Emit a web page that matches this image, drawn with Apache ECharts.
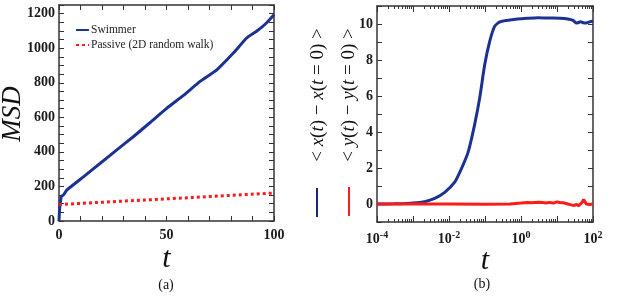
<!DOCTYPE html>
<html><head><meta charset="utf-8">
<script src="https://cdn.jsdelivr.net/npm/echarts@6/dist/echarts.min.js"></script>
<style>html,body{margin:0;padding:0;background:#fff}#c{width:623px;height:296px}</style>
</head><body><div id="c"></div>
<script>
// ---- Panel (a): MSD vs t ----
const tSwim   = [0, 0.15, 0.35, 0.6, 1.07, 2.1, 3.7, 11.5, 19.2, 26.9, 34.7, 42.4, 50.2, 57.9, 65.6, 73.4, 81.1, 87.3, 91.9, 96, 100];
const msdSwim = [0, 40, 80, 104, 141, 151, 180, 257, 334, 412, 489, 570, 653, 727, 808, 875, 972, 1059, 1098, 1140, 1194];
const tPass   = [0, 25, 50, 75, 100];
const msdPass = [95, 112, 128, 145, 162];

// ---- Panel (b): displacement vs t (log t) ----
const tX = [1e-4, 3e-4, 6e-4, 1e-3, 0.0021, 0.004, 0.0076, 0.0144, 0.022, 0.034, 0.051, 0.071, 0.098, 0.135, 0.185, 0.26, 0.4, 0.8, 1.5, 3, 6, 12, 20, 28, 35, 45, 60, 80, 100];
const dX = [0, 0.01, 0.03, 0.05, 0.13, 0.31, 0.65, 1.21, 1.95, 2.88, 4.37, 5.87, 7.73, 9.03, 9.87, 10.12, 10.2, 10.28, 10.32, 10.35, 10.33, 10.32, 10.28, 10.2, 10.05, 10.12, 10.05, 10.12, 10.15];
const tY = [1e-4, 1e-3, 1e-2, 0.1, 0.5, 1, 1.5, 2, 3, 4, 5, 6, 8, 10, 12, 15, 20, 25, 30, 35, 40, 50, 55, 60, 65, 70, 80, 100];
const dY = [0, 0, 0, -0.02, 0.0, 0.05, 0.08, 0.07, 0.1, 0.08, 0.06, 0.09, 0.05, 0.12, 0.08, 0.07, 0.0, -0.05, -0.08, -0.02, -0.1, 0.1, 0.25, 0.15, 0.0, 0.05, -0.03, 0.0];

// minor log tick positions, as exponents (log10 of 2..9 x 10^e)
const logMinorExp = [];
for (let e = -4; e < 2; e++) for (let m = 2; m <= 9; m++) logMinorExp.push(e + Math.log10(m));

const BLUE = '#1c3293', RED = '#ff1a1a', FRAME = '#333';
const SERIF = 'Liberation Serif';
const zip = (a, b) => a.map((v, i) => [v, b[i]]);
const lbl = { fontFamily: SERIF, fontWeight: 'bold', fontSize: 14, color: '#1a1a1a' };
const line = { show: true, onZero: false, lineStyle: { color: FRAME, width: 1.5 } };
const ghostLine = { show: true, onZero: false, lineStyle: { color: FRAME, width: 0, opacity: 0 } };
const tick = (len) => ({ show: true, inside: true, length: len, lineStyle: { color: FRAME, width: 1 } });
const nameStyle = (s) => ({ fontFamily: SERIF, fontStyle: 'italic', fontSize: s, color: '#111' });
const minorAxis = (pos) => ({ gridIndex: 1, type: 'value', min: -4, max: 2, position: pos,
  axisLine: ghostLine, axisTick: Object.assign(tick(3), { customValues: logMinorExp }),
  splitLine: { show: false }, axisLabel: { show: false } });

const chart = echarts.init(document.getElementById('c'));
chart.setOption({
  animation: false,
  grid: [
    { left: 59, top: 5, width: 215, height: 216, outerBoundsMode: 'none', containLabel: false },
    { left: 377, top: 6, width: 216, height: 216, outerBoundsMode: 'none', containLabel: false }
  ],
  legend: {
    data: ['Swimmer', 'Passive (2D random walk)'],
    orient: 'vertical', left: 75, top: 24, padding: 0, itemWidth: 13, itemHeight: 10, itemGap: 3,
    itemStyle: { opacity: 0 },
    textStyle: { fontFamily: SERIF, fontSize: 11.5, color: '#222', padding: [0, 0, 0, -3] }
  },
  xAxis: [
    { gridIndex: 0, type: 'value', min: 0, max: 100, interval: 10, position: 'bottom',
      axisLine: line, axisTick: tick(5), splitLine: { show: false },
      axisLabel: Object.assign({ margin: 7, formatter: v => (v % 50 === 0 ? String(v) : '') }, lbl),
      name: 't', nameLocation: 'middle', nameGap: 23, nameMoveOverlap: false, nameTextStyle: nameStyle(30) },
    { gridIndex: 0, type: 'value', min: 0, max: 100, interval: 10, position: 'top',
      axisLine: line, axisTick: tick(5), splitLine: { show: false }, axisLabel: { show: false } },
    { gridIndex: 1, type: 'log', logBase: 10, min: 1e-4, max: 100, position: 'bottom',
      axisLine: line, axisTick: tick(6), splitLine: { show: false }, minorTick: { show: false },
      axisLabel: Object.assign({ margin: 8,
        formatter: v => { const e = Math.round(Math.log10(v)); return e % 2 === 0 ? '10{s|' + (e < 0 ? '-' : '') + Math.abs(e) + '}' : ''; },
        rich: { s: { fontFamily: SERIF, fontWeight: 'bold', fontSize: 10, verticalAlign: 'top', padding: [0, 0, 9, 0] } } }, lbl),
      name: 't', nameLocation: 'middle', nameGap: 24, nameMoveOverlap: false, nameTextStyle: nameStyle(30) },
    minorAxis('bottom'),
    { gridIndex: 1, type: 'log', logBase: 10, min: 1e-4, max: 100, position: 'top',
      axisLine: line, axisTick: tick(6), splitLine: { show: false }, axisLabel: { show: false } },
    minorAxis('top')
  ],
  yAxis: [
    { gridIndex: 0, type: 'value', min: 0, max: 1250, interval: 50, position: 'left',
      axisLine: line, axisTick: tick(5), splitLine: { show: false },
      axisLabel: Object.assign({ margin: 4, formatter: v => (v % 200 === 0 ? String(v) : '') }, lbl) },
    { gridIndex: 0, type: 'value', min: 0, max: 1250, interval: 50, position: 'right',
      axisLine: line, axisTick: tick(5), splitLine: { show: false }, axisLabel: { show: false } },
    { gridIndex: 1, type: 'value', min: -1, max: 11, interval: 1, position: 'left',
      axisLine: line, axisTick: tick(5), splitLine: { show: false },
      axisLabel: Object.assign({ margin: 4, formatter: v => (v % 2 === 0 ? String(v) : '') }, lbl) },
    { gridIndex: 1, type: 'value', min: -1, max: 11, interval: 1, position: 'right',
      axisLine: line, axisTick: tick(5), splitLine: { show: false }, axisLabel: { show: false } }
  ],
  series: [
    { name: 'Swimmer', type: 'line', xAxisIndex: 0, yAxisIndex: 0, data: zip(tSwim, msdSwim), smooth: 0.15,
      showSymbol: false, symbol: 'none', lineStyle: { color: BLUE, width: 3 }, itemStyle: { color: BLUE } },
    { name: 'Passive (2D random walk)', type: 'line', xAxisIndex: 0, yAxisIndex: 0, data: zip(tPass, msdPass),
      showSymbol: false, symbol: 'none', lineStyle: { color: RED, width: 3, type: [3, 3] }, itemStyle: { color: RED } },
    { name: 'x', type: 'line', xAxisIndex: 2, yAxisIndex: 2, data: zip(tX, dX), smooth: 0.2,
      showSymbol: false, symbol: 'none', lineStyle: { color: BLUE, width: 3 } },
    { name: 'y', type: 'line', xAxisIndex: 2, yAxisIndex: 2, data: zip(tY, dY),
      showSymbol: false, symbol: 'none', lineStyle: { color: RED, width: 3 } }
  ],
  graphic: [
    { type: 'text', x: 13, y: 114, rotation: Math.PI / 2,
      style: { text: 'MSD', fontFamily: SERIF, fontStyle: 'italic', fontSize: 27, fill: '#111',
        align: 'center', verticalAlign: 'middle' } },
    { type: 'text', x: 318, y: 95, rotation: Math.PI / 2,
      style: { text: '< {i|x}({i|t}) − {i|x}({i|t} = 0) >', fontFamily: SERIF, fontSize: 19, fill: '#111',
        align: 'center', verticalAlign: 'middle',
        rich: { i: { fontFamily: SERIF, fontStyle: 'italic', fontSize: 19 } } } },
    { type: 'text', x: 349, y: 95, rotation: Math.PI / 2,
      style: { text: '< {i|y}({i|t}) − {i|y}({i|t} = 0) >', fontFamily: SERIF, fontSize: 19, fill: '#111',
        align: 'center', verticalAlign: 'middle',
        rich: { i: { fontFamily: SERIF, fontStyle: 'italic', fontSize: 19 } } } },
    { type: 'line', shape: { x1: 317, y1: 188, x2: 317, y2: 217 }, style: { stroke: '#1a237e', lineWidth: 2 } },
    { type: 'line', shape: { x1: 349, y1: 187, x2: 349, y2: 216 }, style: { stroke: RED, lineWidth: 2 } },
    { type: 'text', x: 166, y: 285, style: { text: '(a)', fontFamily: SERIF, fontSize: 14, fill: '#111', align: 'center', verticalAlign: 'middle' } },
    { type: 'text', x: 482, y: 284, style: { text: '(b)', fontFamily: SERIF, fontSize: 14, fill: '#111', align: 'center', verticalAlign: 'middle' } }
  ]
});
</script></body></html>
